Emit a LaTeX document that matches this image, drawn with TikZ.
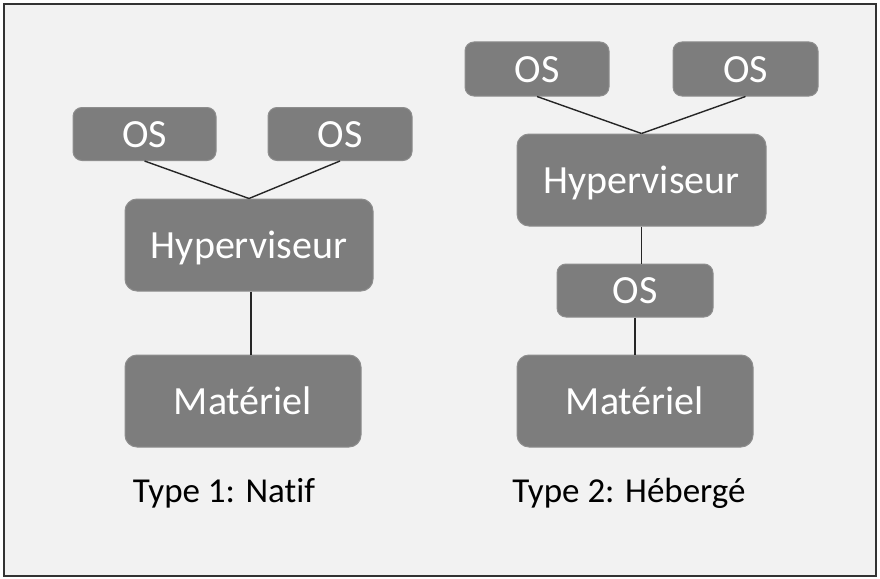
\documentclass[tikz,border=0pt]{standalone}
\usepackage{fontspec}
\setmainfont{Carlito}[Ligatures=NoCommon]
\definecolor{boxgray}{RGB}{125,125,125}
\definecolor{boxrim}{RGB}{142,142,142}
\definecolor{backgr}{RGB}{242,242,242}
\begin{document}
\begin{tikzpicture}[x=1pt, y=-1pt, boxa/.style={rounded corners=9pt, fill=boxgray, draw=boxrim, line width=1pt, text=white, inner sep=0pt, text height=26pt, text depth=0pt, font=\fontsize{40}{44}\selectfont}, link/.style={line width=1.4pt, color=black!85}, lab/.style={anchor=base, font=\fontsize{35}{40}\selectfont}]

\useasboundingbox (0,0) rectangle (880,578);
\draw[fill=backgr, draw=black!80, line width=1.5pt] (4,4) rectangle (876,576);

\node[boxa, minimum width=143pt, minimum height=53pt] (osa) at (144.5,134) {OS};
\node[boxa, minimum width=144pt, minimum height=53pt] (osb) at (340,134) {OS};
\node[boxa, minimum width=248pt, minimum height=92pt, rounded corners=12pt] (hypa) at (249,245) {Hyperviseur};
\node[boxa, minimum width=236pt, minimum height=92pt, rounded corners=12pt] (mata) at (243,401) {Matériel};
\node[lab] (typea) at (224,502) {Type 1: Natif};

\node[boxa, minimum width=144pt, minimum height=54pt] (osc) at (537,69) {OS};
\node[boxa, minimum width=145pt, minimum height=54pt] (osd) at (745.5,69) {OS};
\node[boxa, minimum width=249pt, minimum height=92pt, rounded corners=12pt] (hypb) at (641.5,180) {Hyperviseur};
\node[boxa, minimum width=156pt, minimum height=53pt] (ose) at (635,290.5) {OS};
\node[boxa, minimum width=236pt, minimum height=92pt, rounded corners=12pt] (matb) at (635,401) {Matériel};
\node[lab] (typeb) at (629,502) {Type 2: Hébergé};

\draw[link] (osa.south) -- (hypa.north);
\draw[link] (osb.south) -- (hypa.north);
\draw[link] ([xshift=2pt]hypa.south) -- ([xshift=2pt]hypa.south |- mata.north);
\draw[link] (osc.south) -- (hypb.north);
\draw[link] (osd.south) -- (hypb.north);
\draw[link] (hypb.south) -- (hypb.south |- ose.north);
\draw[link] (ose.south) -- (matb.north);

\end{tikzpicture}
\end{document}
